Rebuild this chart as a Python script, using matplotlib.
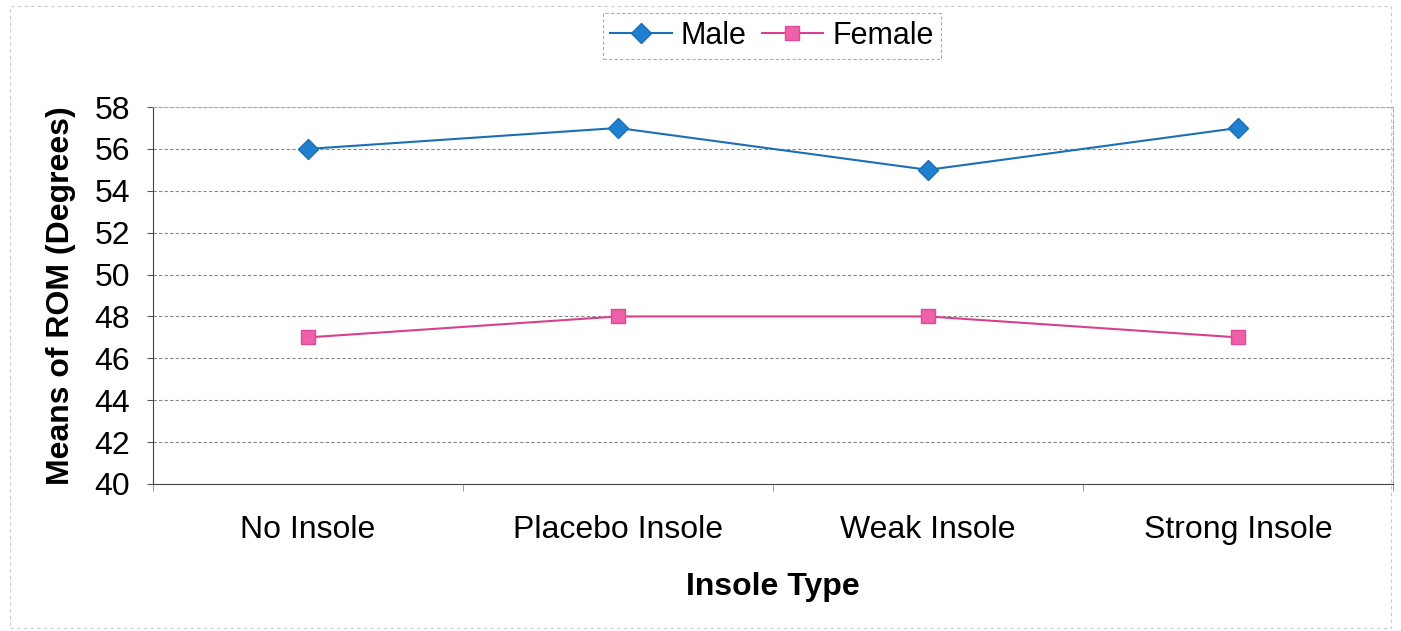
import matplotlib.pyplot as plt
from matplotlib.patches import Rectangle

categories = ["No Insole", "Placebo Insole", "Weak Insole", "Strong Insole"]
male = [56, 57, 55, 57]
female = [47, 48, 48, 47]
yticks = [40, 42, 44, 46, 48, 50, 52, 54, 56, 58]

plt.rcParams['font.family'] = ['Liberation Sans', 'DejaVu Sans']

fig = plt.figure(figsize=(14.01, 6.31), dpi=100)
ax = fig.add_axes([0.1092, 0.2330, 0.8851, 0.5974])

x = list(range(len(categories)))
ax.plot(x, male, color='#1a6fb5', lw=1.5, marker='D', ms=10,
        mfc='#1f7fd0', mec='#1a6fb5', label='Male')
ax.plot(x, female, color='#d8408c', lw=1.5, marker='s', ms=10.5,
        mfc='#f060a8', mec='#e04898', label='Female')

ax.set_xlim(-0.5, len(categories) - 0.5)
ax.set_ylim(40, 58)
ax.set_yticks(yticks)
ax.set_xticks(x)
ax.set_xticklabels(categories)
ax.set_xticks([i + 0.5 for i in range(-1, len(categories))], minor=True)
ax.tick_params(axis='x', which='major', length=0, pad=22, labelsize=23)
ax.tick_params(axis='x', which='minor', length=5, color='#888888')
ax.tick_params(axis='y', length=4.5, pad=12, labelsize=23, color='#555555')

ax.grid(axis='y', color='#888888', ls=(0, (3, 2)), lw=0.8)
ax.set_axisbelow(True)
for side in ['top', 'right']:
    ax.spines[side].set_color('#aaaaaa')
    ax.spines[side].set_linestyle((0, (3, 2)))
    ax.spines[side].set_linewidth(0.8)
ax.spines['left'].set_color('#444444')
ax.spines['bottom'].set_color('#444444')

ax.set_ylabel('Means of ROM (Degrees)', fontsize=23, fontweight='bold', labelpad=13)
ax.set_xlabel('Insole Type', fontsize=23, fontweight='bold', labelpad=20)

leg = ax.legend(loc='center', bbox_to_anchor=(0.551, 0.943), bbox_transform=fig.transFigure,
                ncol=2, fontsize=22, frameon=True, fancybox=False,
                handlelength=2.0, columnspacing=0.5, handletextpad=0.3,
                borderpad=0.25)
leg.get_frame().set_edgecolor('#999999')
leg.get_frame().set_linestyle((0, (3, 2)))
leg.get_frame().set_linewidth(0.8)

fig.patches.append(Rectangle((0.007, 0.005), 0.986, 0.985, transform=fig.transFigure,
                             fill=False, ec='#cccccc', ls=(0, (3, 3)), lw=0.8))

fig.savefig('out.png', dpi=100)
